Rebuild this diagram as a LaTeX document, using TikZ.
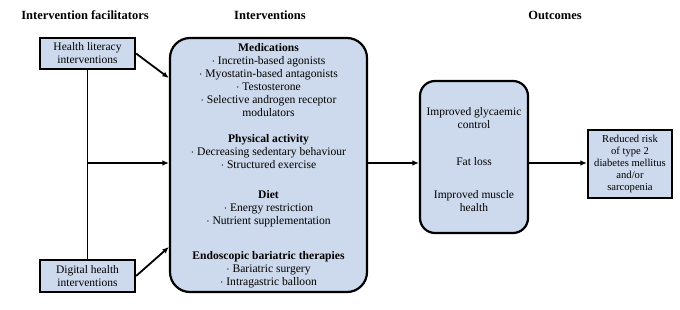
\documentclass[tikz,border=0pt]{standalone}
\usepackage{fontspec}
\setmainfont{Liberation Serif}
\usetikzlibrary{arrows.meta}
\definecolor{boxblue}{HTML}{CDD9EC}
\begin{document}
\begin{tikzpicture}[x=1pt,y=-1pt,
  title/.style={font=\fontsize{12.5}{14}\selectfont\bfseries, inner sep=0pt},
  sqbox/.style={draw=black, line width=2.2pt, fill=boxblue, inner sep=0pt, align=center,
    font=\fontsize{11.5}{13}\selectfont},
  rbox/.style={draw=black, line width=2.2pt, fill=boxblue, inner sep=0pt},
  txt/.style={align=center, inner sep=0pt, anchor=north, font=\fontsize{11.6}{13}\selectfont},
  arr/.style={line width=1.8pt, -{Latex[length=6.5pt,width=5.5pt]}},
  ln/.style={line width=1.8pt}]
\useasboundingbox (0,0) rectangle (680,309);
\node[title] (t1) at (85,15) {Intervention facilitators};
\node[title] (t2) at (270,15) {Interventions};
\node[title] (t3) at (555,15) {Outcomes};

\node[sqbox, minimum width=95pt, minimum height=31pt] (hl) at (87.5,53.5) {Health literacy\\interventions};
\node[sqbox, minimum width=95pt, minimum height=32pt] (dh) at (87.5,276) {Digital health\\interventions};

\node[rbox, rounded corners=20pt, minimum width=197pt, minimum height=254pt] (iv) at (268.5,165) {};
\node[txt] (med) at (268.5,43) {\textbf{Medications}\\$\cdot$ Incretin-based agonists\\$\cdot$ Myostatin-based antagonists\\$\cdot$ Testosterone\\$\cdot$ Selective androgen receptor\\modulators};
\node[txt] (pa) at (268.5,134.5) {\textbf{Physical activity}\\$\cdot$ Decreasing sedentary behaviour\\$\cdot$ Structured exercise};
\node[txt] (diet) at (268.5,190.5) {\textbf{Diet}\\$\cdot$ Energy restriction\\$\cdot$ Nutrient supplementation};
\node[txt] (ebt) at (268.5,251.5) {\textbf{Endoscopic bariatric therapies}\\$\cdot$ Bariatric surgery\\$\cdot$ Intragastric balloon};

\node[rbox, rounded corners=15pt, minimum width=108pt, minimum height=152pt] (oc) at (474,157) {};
\begin{scope}[txt/.append style={font=\fontsize{11.5}{13}\selectfont}]
\node[txt] (o1) at (474,107.5) {Improved glycaemic\\control};
\node[txt] (o2) at (474,157.5) {Fat loss};
\node[txt] (o3) at (474,190.5) {Improved muscle\\health};
\end{scope}

\node[sqbox, minimum width=84pt, minimum height=68pt, font=\fontsize{10.6}{12}\selectfont] (rr) at (630,164) {Reduced risk\\of type 2\\diabetes mellitus\\and/or\\sarcopenia};

\coordinate (mid) at (0,163);
\coordinate (j) at (hl.south |- mid);
\coordinate (a1) at (iv.west |- 0,78);
\coordinate (a2) at (iv.west |- 0,247);
\draw[ln] (hl.south) -- (dh.north);
\draw[arr] (j) -- (iv.west |- mid);
\draw[arr] (hl.east) -- (a1);
\draw[arr] (dh.east) -- (a2);
\draw[arr] (iv.east |- mid) -- (oc.west |- mid);
\draw[arr] (oc.east |- mid) -- (rr.west |- mid);
\end{tikzpicture}
\end{document}
